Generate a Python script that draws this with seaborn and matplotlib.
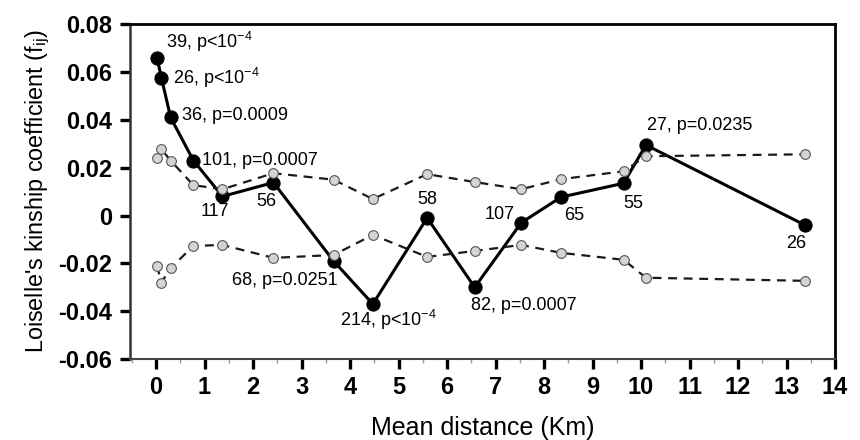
import numpy as np
import pandas as pd
import matplotlib
matplotlib.use("Agg")
import matplotlib.pyplot as plt
import seaborn as sns

sns.set_style("ticks")
plt.rcParams["font.family"] = ["Liberation Sans", "DejaVu Sans"]
plt.rcParams["mathtext.default"] = "regular"
plt.rcParams["axes.unicode_minus"] = False
plt.rcParams["text.color"] = "black"
plt.rcParams["axes.labelcolor"] = "black"
plt.rcParams["xtick.labelcolor"] = "black"
plt.rcParams["ytick.labelcolor"] = "black"

#Data
distance = [0.02, 0.11, 0.3, 0.77, 1.37, 2.42, 3.66, 4.47, 5.59, 6.57, 7.53, 8.35, 9.64, 10.1, 13.38]
kinship = [0.066, 0.0577, 0.041, 0.023, 0.008, 0.0138, -0.019, -0.037, -0.001, -0.030,
           -0.003, 0.0077, 0.0135, 0.0295, -0.004]
upper_ci = [0.024, 0.0277, 0.023, 0.0127, 0.011, 0.0177, 0.015, 0.0069, 0.0173, 0.014,
            0.011, 0.0152, 0.0185, 0.0248, 0.0256]
lower_ci = [-0.021, -0.028, -0.022, -0.0127, -0.0123, -0.0177, -0.0165, -0.0081, -0.0173,
            -0.0148, -0.0123, -0.0156, -0.0185, -0.026, -0.0273]
point_labels = ["39, p<10$^{-4}$", "26, p<10$^{-4}$", "36, p=0.0009", "101, p=0.0007", "117", "56",
                "68, p=0.0251", "214, p<10$^{-4}$", "58", "82, p=0.0007", "107", "65", "55",
                "27, p=0.0235", "26"]
xticks = list(range(0, 15))
yticks = [-0.06, -0.04, -0.02, 0, 0.02, 0.04, 0.06, 0.08]
ytick_labels = ["-0.06", "-0.04", "-0.02", "0", "0.02", "0.04", "0.06", "0.08"]

df = pd.DataFrame({"distance": distance, "kinship": kinship, "upper": upper_ci, "lower": lower_ci})

fig = plt.figure(figsize=(8.6, 4.4), dpi=100)
ax = fig.add_axes([0.151, 0.184, 0.82, 0.761])

#Observed kinship
sns.lineplot(data=df, x="distance", y="kinship", ax=ax, color="black", linewidth=2.2,
             marker="o", markersize=9.5, markerfacecolor="black", markeredgecolor="black", zorder=2)

#Confidence envelope
for col in ["upper", "lower"]:
    sns.lineplot(data=df, x="distance", y=col, ax=ax, color="#1a1a1a", linewidth=1.6,
                 linestyle=(0, (4, 3)), marker="o", markersize=7, markerfacecolor="#d4d4d4",
                 markeredgecolor="#555555", markeredgewidth=0.8, zorder=3)

#Labels next to points
offsets = [(6.5, 11.5, "left"), (8.6, 0, "left"), (8, 1.5, "left"), (6.5, 0, "left"),
           (-5.8, -11, "center"), (-5, -13.7, "center"), (3, -13.7, "right"), (11, -11.5, "center"),
           (0, 13, "center"), (-3, -13, "left"), (-5, 5.8, "right"), (9.4, -13, "center"),
           (7.2, -14.4, "center"), (0.7, 13.7, "left"), (-6.5, -13, "center")]
for i in range(len(point_labels)):
    dx, dy, ha = offsets[i]
    ax.annotate(point_labels[i], (distance[i], kinship[i]), xytext=(dx, dy),
                textcoords="offset points", ha=ha, va="center", fontsize=13, color="black", zorder=5)

ax.set_xlim(-0.54, 14)
ax.set_ylim(-0.06, 0.08)
ax.set_xticks(xticks)
ax.set_xticks(np.arange(-0.5, 14, 0.5), minor=True)
ax.set_yticks(yticks)
ax.set_yticklabels(ytick_labels)
for lab in ax.get_xticklabels():
    lab.set_fontweight("bold")
    lab.set_fontsize(17)
for lab in ax.get_yticklabels():
    lab.set_fontweight("bold")
    lab.set_fontsize(17)
ax.tick_params(axis="both", which="major", direction="out", length=7.5, width=2.4, color="black")
ax.tick_params(axis="x", which="major", pad=5)
ax.tick_params(axis="y", which="major", pad=5)
ax.tick_params(axis="x", which="minor", direction="out", length=3, width=1, color="#999999")
ax.tick_params(axis="y", which="minor", length=0)

for side in ["top", "right"]:
    ax.spines[side].set_linewidth(2)
    ax.spines[side].set_color("black")
ax.spines["left"].set_linewidth(1.8)
ax.spines["left"].set_color("#333333")
ax.spines["bottom"].set_linewidth(1.5)
ax.spines["bottom"].set_color("#444444")

ax.set_xlabel("Mean distance (Km)", fontsize=18, labelpad=12)
ax.set_ylabel("Loiselle's kinship coefficient (f$_{ij}$)", fontsize=16.8, labelpad=5)

plt.savefig("out.png", dpi=100)
